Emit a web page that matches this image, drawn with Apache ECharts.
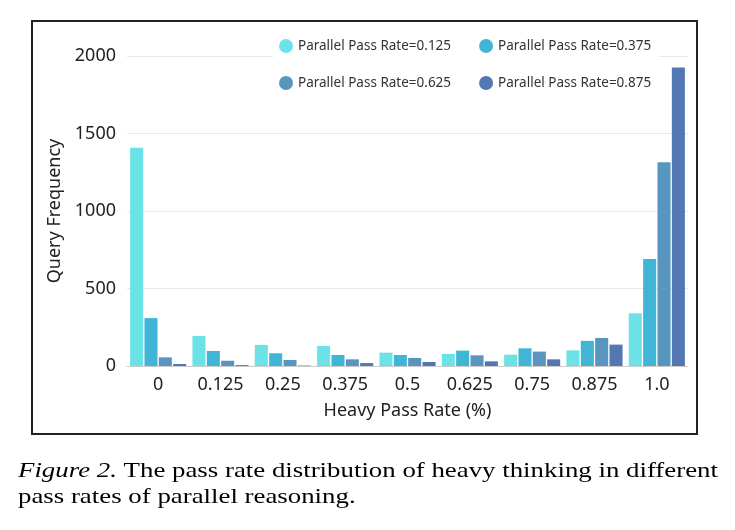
<!DOCTYPE html>
<html>
<head>
<meta charset="utf-8">
<script src="https://cdn.jsdelivr.net/npm/echarts@6/dist/echarts.min.js"></script>
<style>
html,body{margin:0;padding:0;background:#fff;}
#chart{width:735px;height:530px;}
</style>
</head>
<body>
<div id="chart"></div>
<script>
const categories = ['0','0.125','0.25','0.375','0.5','0.625','0.75','0.875','1.0'];
const seriesNames = ['Parallel Pass Rate=0.125','Parallel Pass Rate=0.375','Parallel Pass Rate=0.625','Parallel Pass Rate=0.875'];
const rate0125 = [1408, 194, 136, 129, 86, 78, 73, 101, 340];
const rate0375 = [309, 97, 82, 71, 71, 99, 114, 162, 690];
const rate0625 = [56, 34, 39, 43, 52, 69, 93, 181, 1315];
const rate0875 = [13, 6, 3, 19, 26, 30, 43, 138, 1926];
const yTicks = [0, 500, 1000, 1500, 2000];
const colors = ['#6be3e6', '#40b5d5', '#5896bf', '#5277b2'];

const chart = echarts.init(document.getElementById('chart'));
const font = 'Noto Sans';
const allData = [rate0125, rate0375, rate0625, rate0875];
const series = seriesNames.map((n, i) => ({
  name: n, type: 'bar', data: allData[i],
  itemStyle: { color: colors[i] },
  barGap: '10%', barCategoryGap: '10%'
}));
const legendCommon = {
  orient: 'horizontal', icon: 'circle', itemWidth: 14, itemHeight: 14,
  itemGap: 28, padding: [6, 8, 6, 6], backgroundColor: '#fff',
  textStyle: { fontFamily: font, fontSize: 13.5, color: '#333' }
};
chart.setOption({
  animation: false,
  color: colors,
  grid: { left: 127, right: 47, top: 56, bottom: 164 },
  legend: [
    Object.assign({}, legendCommon, { left: 273, top: 33, data: [seriesNames[0], seriesNames[1]] }),
    Object.assign({}, legendCommon, { left: 273, top: 70, data: [seriesNames[2], seriesNames[3]] })
  ],
  xAxis: {
    type: 'category', data: categories,
    name: 'Heavy Pass Rate (%)', nameLocation: 'middle', nameGap: 36,
    nameTextStyle: { fontFamily: font, fontSize: 18, color: '#222' },
    axisLine: { lineStyle: { color: '#ccc' } },
    axisTick: { show: false },
    axisLabel: { fontFamily: font, fontSize: 18, color: '#222', margin: 10 }
  },
  yAxis: {
    type: 'value', min: yTicks[0], max: yTicks[yTicks.length - 1], interval: 500,
    name: 'Query Frequency', nameLocation: 'middle', nameGap: 55,
    nameTextStyle: { fontFamily: font, fontSize: 18, color: '#222' },
    axisLine: { show: false }, axisTick: { show: false },
    axisLabel: { fontFamily: font, fontSize: 18, color: '#222', margin: 11,
      formatter: v => String(v) },
    splitLine: { lineStyle: { color: '#e8e8e8' } }
  },
  series: series,
  graphic: [
    { type: 'rect', shape: { x: 32, y: 21, width: 665, height: 413 },
      style: { fill: 'none', stroke: '#222', lineWidth: 2 }, z: 100 },
    { type: 'text', x: 18, y: 458, scaleX: 1.22, z: 100,
      style: {
        text: '{i|Figure 2.} The pass rate distribution of heavy thinking in different\npass rates of parallel reasoning.',
        fontFamily: 'Liberation Serif', fontSize: 22, fill: '#000', lineHeight: 26,
        rich: { i: { fontStyle: 'italic', fontFamily: 'Liberation Serif', fontSize: 22, lineHeight: 26 } }
      } }
  ]
});
</script>
</body>
</html>
